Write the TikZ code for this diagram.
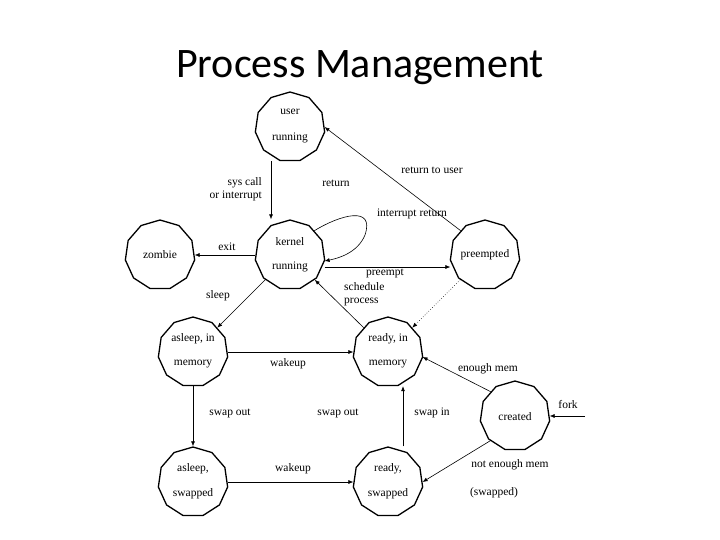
\documentclass[tikz,border=0pt]{standalone}
\usepackage{fontspec}
\setmainfont{Liberation Serif}
\newfontfamily\titlefont{Carlito}
\usetikzlibrary{shapes.geometric,arrows.meta}
\begin{document}
\begin{tikzpicture}[x=1pt,y=-1pt,
  st/.style={draw,line width=1.3pt,regular polygon,regular polygon sides=11,minimum size=70,inner sep=0pt},
  lb/.style={font=\fontsize{11.5}{13}\selectfont,inner sep=1pt},
  ar/.style={-{Latex[length=5pt,width=4pt]},semithick}]
\useasboundingbox (0,0) rectangle (720,540);
\node[font=\titlefont\fontsize{42}{48}\selectfont] (title) at (360,68) {Process Management};
\node[st] (user) at (290,127) {};
\node[st] (kern) at (290,255) {};
\node[st] (zomb) at (160,255) {};
\node[st] (pre) at (485,255) {};
\node[st] (aim) at (193,352) {};
\node[st] (rim) at (388,352) {};
\node[st] (cre) at (515,416) {};
\node[st] (asw) at (193,482) {};
\node[st] (rsw) at (388,482) {};
% node texts
\node[lb] (t1) at (290,112) {user}; \node[lb] (t2) at (290,138) {running};
\node[lb] (t3) at (290,242) {kernel}; \node[lb] (t4) at (290,267) {running};
\node[lb] (t5) at (160,255) {zombie};
\node[lb] (t6) at (485,255) {preempted};
\node[lb] (t7) at (193,339) {asleep, in}; \node[lb] (t8) at (193,364) {memory};
\node[lb] (t9) at (388,339) {ready, in}; \node[lb] (t10) at (388,364) {memory};
\node[lb] (t11) at (515,417) {created};
\node[lb] (t12) at (193,469) {asleep,}; \node[lb] (t13) at (193,494) {swapped};
\node[lb] (t14) at (388,469) {ready,}; \node[lb] (t15) at (388,494) {swapped};
% connectors
\draw[ar] ([xshift=-19]user.south) -- ([xshift=-19]kern.north);
\draw[ar] (pre.north west) -- (user.east);
\draw[ar] (kern.north east) .. controls (340,215) and (375,205) .. (365,235) .. controls (358,252) and (340,258) .. ([yshift=-6]kern.east);
\draw[ar] ([yshift=-12]kern.east) -- ([yshift=-12]pre.west);
\draw[ar] (kern.west) -- (zomb.east);
\draw[ar] (kern.south west) -- (aim.north east);
\draw[ar] (rim.north west) -- (kern.south east);
\draw[ar,dotted] (pre.south west) -- (rim.north east);
\draw[ar] (aim.east) -- (rim.west);
\draw[ar] (aim.south) -- (asw.north);
\draw[ar] ([xshift=15]rsw.north) -- ([xshift=15]rim.south);
\draw[ar] (cre.north west) -- ([yshift=-5]rim.east);
\draw[ar] (cre.south west) -- (rsw.east);
\draw[ar] (asw.east) -- (rsw.west);
\coordinate (fk) at (585,416);
\draw[ar] (fk) -- (cre.east);
% labels
\node[lb,anchor=east] (l1) at (263,183) {sys call};
\node[lb,anchor=east] (l2) at (263,196) {or interrupt};
\node[lb] (l3) at (336,183) {return};
\node[lb] (l4) at (432,170) {return to user};
\node[lb] (l5) at (412,214) {interrupt return};
\node[lb] (l6) at (227,247) {exit};
\node[lb] (l7) at (385,273) {preempt};
\node[lb] (l8) at (218,296) {sleep};
\node[lb,anchor=west,align=left,font=\fontsize{11.5}{12.5}\selectfont] (l9) at (343,294) {schedule\\process};
\node[lb] (l11) at (288,364) {wakeup};
\node[lb] (l12) at (488,369) {enough mem};
\node[lb] (l13) at (230,413) {swap out};
\node[lb] (l14) at (338,413) {swap out};
\node[lb] (l15) at (432,413) {swap in};
\node[lb] (l16) at (568,405) {fork};
\node[lb] (l17) at (293,469) {wakeup};
\node[lb] (l18) at (510,465) {not enough mem};
\node[lb] (l19) at (494,493) {(swapped)};
\end{tikzpicture}
\end{document}
